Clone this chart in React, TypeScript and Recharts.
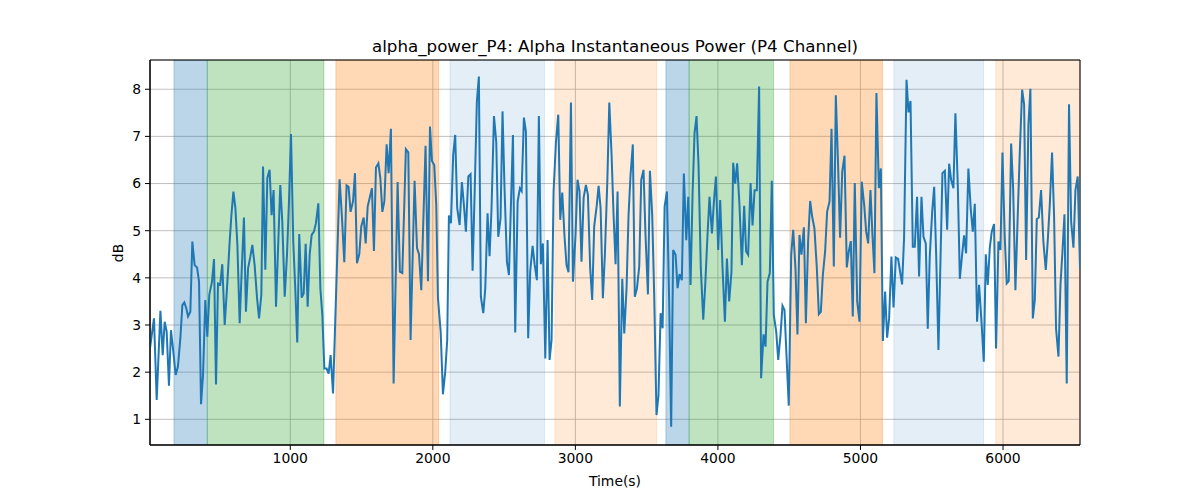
import React from "react";
import { LineChart, Line, XAxis, YAxis, CartesianGrid, ReferenceArea } from "recharts";

const times: number[] = [
  16, 44, 63, 89, 105, 119, 133, 149, 163, 177, 196, 212, 229, 243, 257, 271, 283, 299, 313, 329, 346, 360, 374, 388, 404, 418, 432, 451, 465, 479, 493, 509, 523, 540, 559, 575, 587, 601, 615, 629, 645, 659, 675, 689, 704, 720, 734, 750, 767, 781, 797, 809, 825, 839,
  855, 869, 883, 900, 930, 944, 961, 977, 991, 1005, 1021, 1035, 1049, 1063, 1080, 1094, 1108, 1122, 1136, 1150, 1166, 1180, 1197, 1211, 1225, 1239, 1255, 1269, 1283, 1300, 1346, 1363, 1379, 1395, 1409, 1423, 1440, 1454, 1468, 1484, 1498, 1515, 1529, 1543, 1559, 1573, 1587, 1601, 1618, 1632, 1646, 1660,
  1676, 1690, 1706, 1725, 1753, 1769, 1786, 1811, 1828, 1844, 1872, 1889, 1903, 1919, 1949, 1966, 1980, 1994, 2010, 2024, 2036, 2055, 2071, 2087, 2101, 2113, 2127, 2143, 2157, 2171, 2188, 2204, 2218, 2232, 2249, 2265, 2279, 2293, 2309, 2323, 2337, 2354, 2368, 2384, 2398, 2412, 2429, 2445, 2459,
  2475, 2489, 2503, 2520, 2534, 2548, 2562, 2578, 2595, 2611, 2623, 2639, 2653, 2669, 2683, 2700, 2714, 2730, 2744, 2758, 2772, 2789, 2805, 2819, 2833, 2847, 2864, 2880, 2894, 2908, 2924, 2938, 2952, 2969, 2983, 3001, 3015, 3029, 3043, 3058, 3074, 3088, 3104, 3118, 3132, 3149, 3163, 3177, 3193, 3207, 3224, 3238, 3254, 3268, 3282, 3296,
  3312, 3329, 3343, 3359, 3373, 3387, 3403, 3417, 3432, 3448, 3462, 3478, 3492, 3509, 3523, 3539, 3553, 3569, 3583, 3598, 3612, 3626, 3642, 3658, 3672, 3686, 3703, 3717, 3731, 3747, 3761, 3778, 3792, 3808, 3822, 3836, 3850, 3864, 3880, 3897, 3911, 3927, 3941, 3958, 3972, 3986, 4002, 4016, 4032, 4049, 4063, 4079, 4095, 4107, 4121,
  4135, 4151, 4168, 4184, 4198, 4212, 4229, 4243, 4257, 4273, 4289, 4303, 4320, 4334, 4348, 4364, 4378, 4392, 4409, 4423, 4439, 4453, 4467, 4481, 4497, 4514, 4528, 4544, 4558, 4572, 4586, 4603, 4617, 4633, 4647, 4661, 4677, 4694, 4708, 4722, 4736, 4752, 4766, 4783, 4797, 4813, 4827, 4843, 4857, 4872, 4888, 4904, 4918, 4932,
  4946, 4960, 4977, 4993, 5009, 5026, 5040, 5054, 5070, 5084, 5098, 5112, 5129, 5143, 5157, 5173, 5187, 5201, 5217, 5232, 5248, 5264, 5278, 5292, 5306, 5323, 5337, 5351, 5367, 5381, 5397, 5411, 5428, 5442, 5458, 5472, 5486, 5503, 5517, 5531, 5547, 5561, 5575, 5592, 5608, 5622, 5636, 5652, 5666, 5683, 5697, 5713, 5727, 5741, 5757,
  5774, 5788, 5802, 5818, 5832, 5849, 5865, 5879, 5893, 5907, 5921, 5937, 5951, 5968, 5982, 5996, 6012, 6026, 6040, 6057, 6071, 6087, 6103, 6117, 6134, 6148, 6162, 6178, 6192, 6209, 6223, 6237, 6251, 6267, 6283, 6300, 6314, 6328, 6344, 6358, 6372, 6389, 6403, 6417, 6431, 6447, 6463, 6478, 6494, 6508, 6524, 6540,
];

const power: number[] = [
  2.51, 3.14, 1.41, 3.30, 2.36, 3.07, 2.86, 1.71, 2.89, 2.51, 1.94, 2.12, 2.72, 3.42, 3.48, 3.35, 3.18, 3.28, 4.77, 4.27, 4.22, 3.92, 1.32, 1.94, 3.53, 2.75, 3.64, 3.92, 4.40, 1.74, 3.88, 3.86, 4.29, 3.00, 3.92, 4.77, 5.33, 5.83, 5.48, 4.70, 3.04, 4.13, 5.28, 3.28, 4.20, 4.45, 4.70, 4.27, 3.57, 3.14, 3.64, 6.36, 4.17, 6.12,
  6.29, 5.33, 5.86, 3.39, 5.97, 5.19, 3.60, 4.49, 5.62, 7.05, 4.77, 3.78, 2.63, 4.93, 3.58, 3.67, 4.72, 3.39, 4.49, 4.91, 4.98, 5.16, 5.58, 3.78, 3.21, 2.08, 2.08, 1.97, 2.36, 1.55, 6.09, 5.26, 4.33, 5.96, 5.93, 5.40, 5.62, 6.22, 4.31, 4.50, 5.09, 5.28, 4.73, 5.51, 5.72, 5.90, 4.57, 6.34, 6.43, 6.11, 5.40, 5.62,
  6.83, 6.22, 7.16, 1.76, 6.03, 4.13, 4.10, 6.73, 6.66, 2.68, 6.06, 4.63, 4.50, 3.74, 6.80, 3.93, 7.21, 6.48, 6.39, 5.55, 3.57, 2.86, 1.53, 2.01, 2.68, 5.32, 5.16, 6.61, 7.03, 5.48, 5.12, 6.03, 5.55, 4.98, 6.15, 6.20, 4.15, 5.76, 7.74, 8.27, 3.60, 3.25, 3.78, 5.37, 4.46, 5.48, 7.43, 6.88, 4.87,
  5.26, 7.53, 5.90, 4.34, 4.06, 5.55, 7.03, 2.84, 5.62, 5.90, 5.84, 7.40, 7.10, 2.72, 4.13, 4.68, 4.29, 3.95, 7.43, 4.29, 4.73, 2.29, 4.80, 2.26, 2.68, 5.83, 6.89, 7.46, 5.23, 5.81, 4.87, 4.27, 4.12, 7.72, 3.92, 4.90, 6.08, 5.84, 4.34, 5.70, 5.97, 5.76, 4.20, 3.53, 5.09, 5.51, 5.95, 5.48, 3.57, 4.49, 6.04, 7.72, 6.61, 5.33, 4.29, 5.83,
  1.27, 3.98, 2.82, 3.78, 5.33, 6.18, 6.83, 3.60, 3.78, 4.24, 6.08, 6.29, 4.91, 3.65, 6.27, 5.33, 3.64, 1.09, 1.51, 3.25, 2.93, 5.51, 5.83, 3.50, 0.84, 4.59, 4.49, 3.78, 4.08, 3.95, 6.21, 4.80, 5.72, 3.85, 5.76, 7.07, 7.43, 6.39, 4.20, 3.11, 3.85, 4.91, 5.72, 4.94, 5.62, 6.15, 4.59, 5.65, 4.24, 3.07, 4.41, 3.50, 4.13, 6.44, 6.00,
  6.43, 5.55, 4.27, 5.53, 4.56, 4.49, 6.01, 5.11, 5.86, 5.86, 8.06, 1.87, 2.80, 2.54, 3.92, 4.10, 6.06, 3.21, 2.86, 2.26, 2.79, 3.41, 3.32, 2.36, 1.29, 4.49, 5.02, 4.20, 2.80, 4.91, 4.49, 5.07, 3.04, 4.80, 5.63, 5.30, 5.05, 4.20, 3.23, 3.28, 4.06, 4.56, 5.40, 5.62, 7.16, 4.24, 7.87, 6.39, 4.85, 6.25, 6.59, 4.22, 4.56, 4.78,
  3.18, 6.01, 3.50, 3.07, 6.04, 5.55, 4.98, 4.73, 5.86, 4.91, 4.10, 7.92, 5.90, 6.32, 2.66, 3.71, 2.73, 3.14, 4.45, 3.37, 4.43, 4.40, 4.13, 3.86, 4.85, 8.20, 7.51, 7.75, 4.66, 4.66, 5.72, 4.03, 5.72, 4.87, 4.73, 2.92, 4.45, 5.40, 5.93, 4.49, 2.47, 4.34, 6.22, 6.27, 5.02, 6.42, 6.08, 5.90, 7.49, 5.93, 3.98, 4.49, 4.90, 4.52, 6.32,
  5.44, 4.98, 5.57, 3.07, 3.85, 3.07, 2.22, 4.50, 3.85, 4.63, 4.98, 5.14, 2.50, 4.77, 4.59, 6.66, 4.87, 3.88, 3.93, 6.85, 5.90, 3.74, 5.30, 6.61, 7.99, 7.68, 4.38, 7.24, 8.01, 3.14, 3.53, 5.25, 5.28, 5.86, 4.77, 4.17, 4.80, 5.55, 6.66, 5.33, 2.92, 2.33, 3.85, 4.56, 5.35, 1.76, 7.68, 5.19, 4.64, 5.86, 6.15, 4.20,
];

const regionStart: number[] = [184, 418, 1320, 2120, 2856, 3635, 3798, 4505, 5234, 5949];
const regionEnd: number[] = [418, 1236, 2041, 2784, 3570, 3798, 4390, 5154, 5863, 6540];
const regionColor: string[] = ["#1f77b4", "#2ca02c", "#ff7f0e", "#1f77b4", "#ff7f0e", "#1f77b4", "#2ca02c", "#ff7f0e", "#1f77b4", "#ff7f0e"];
const regionOpacity: number[] = [0.3, 0.3, 0.3, 0.12, 0.16, 0.3, 0.3, 0.3, 0.12, 0.16];

const xTicks: number[] = [1000, 2000, 3000, 4000, 5000, 6000];
const yTicks: number[] = [1, 2, 3, 4, 5, 6, 7, 8];
const xDomain: [number, number] = [16, 6540];
const yDomain: [number, number] = [0.455, 8.62];

const data = times.map((t, i) => ({ t, v: power[i] }));

const FONT = "DejaVu Sans, sans-serif";
const tickStyle = { fill: "#000", fontSize: 13.9, fontFamily: FONT };

export default function App() {
  return (
    <div style={{ position: "absolute", left: 0, top: 0, width: 1200, height: 500, background: "#fff", fontFamily: FONT }}>
      <div style={{ position: "absolute", left: 150, top: 36, width: 930, textAlign: "center", fontSize: 16.7, lineHeight: "20px", color: "#000" }}>
        alpha_power_P4: Alpha Instantaneous Power (P4 Channel)
      </div>
      <LineChart width={1200} height={500} data={data} margin={{ top: 60, right: 120, bottom: 0, left: 0 }}>
        <CartesianGrid stroke="#b0b0b0" strokeWidth={0.8} />
        {regionStart.map((s, i) => (
          <ReferenceArea
            key={i}
            x1={s}
            x2={regionEnd[i]}
            fill={regionColor[i]}
            fillOpacity={regionOpacity[i]}
            stroke={regionColor[i]}
            strokeOpacity={regionOpacity[i]}
            ifOverflow="hidden"
          />
        ))}
        <XAxis
          dataKey="t"
          type="number"
          domain={xDomain}
          ticks={xTicks}
          allowDataOverflow
          height={55}
          tickSize={5}
          tickMargin={3}
          tick={tickStyle}
          stroke="#000"
          interval={0}
        />
        <YAxis
          type="number"
          domain={yDomain}
          ticks={yTicks}
          allowDataOverflow
          width={150}
          tickSize={5}
          tickMargin={4}
          tick={tickStyle}
          stroke="#000"
          interval={0}
        />
        <Line dataKey="v" type="linear" stroke="#1f77b4" strokeWidth={2} dot={false} isAnimationActive={false} />
        <ReferenceArea
          x1={xDomain[0]}
          x2={xDomain[1]}
          y1={yDomain[0]}
          y2={yDomain[1]}
          fill="none"
          fillOpacity={0}
          stroke="#000"
          strokeWidth={1}
          ifOverflow="visible"
        />
      </LineChart>
      <div style={{ position: "absolute", left: 150, top: 472, width: 930, textAlign: "center", fontSize: 13.9, lineHeight: "18px", color: "#000" }}>
        Time(s)
      </div>
      <div style={{ position: "absolute", left: 118, top: 253, width: 0, height: 0 }}>
        <div style={{ position: "absolute", left: -20, top: -9, width: 40, textAlign: "center", fontSize: 13.9, lineHeight: "18px", color: "#000", transform: "rotate(-90deg)" }}>
          dB
        </div>
      </div>
    </div>
  );
}
